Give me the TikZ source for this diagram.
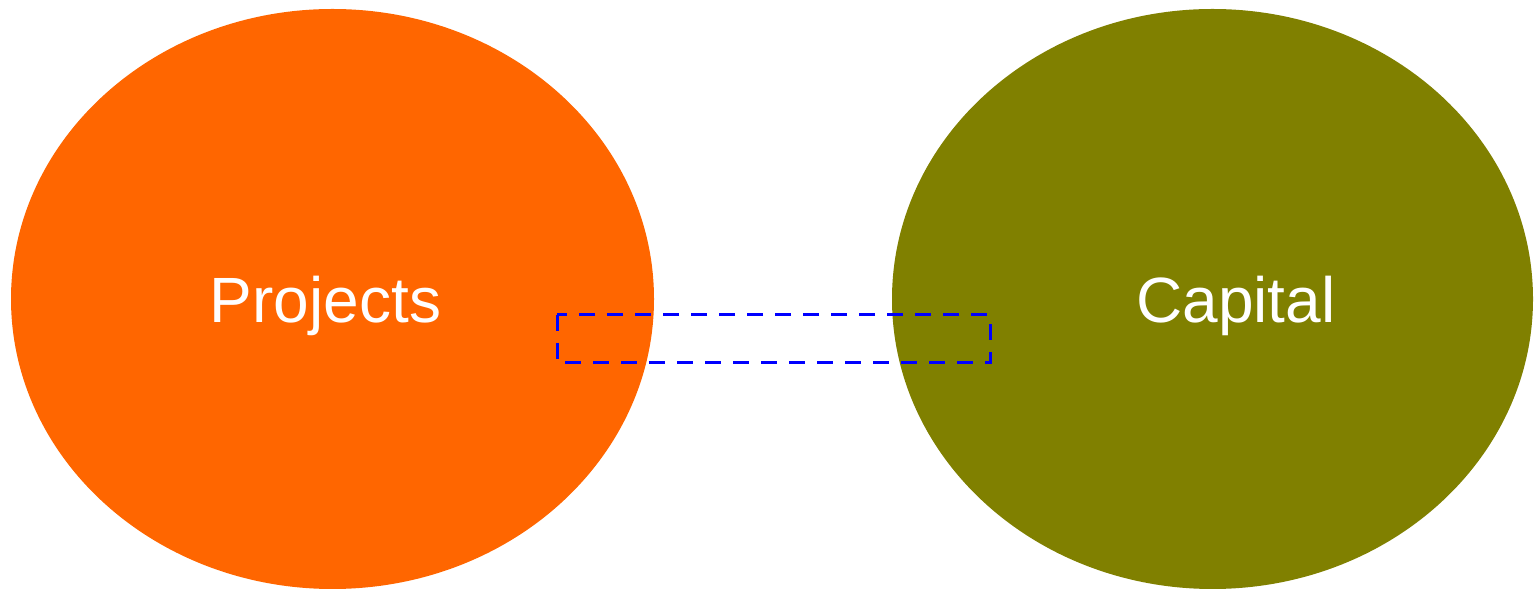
\documentclass[tikz,border=0pt]{standalone}
\usepackage{fontspec}
\setmainfont{Liberation Sans}
\definecolor{orng}{HTML}{FF6600}
\definecolor{olv}{HTML}{808000}
\begin{document}
\begin{tikzpicture}[x=1pt,y=1pt,
  lbl/.style={text=white,font=\fontsize{64}{64}\selectfont,inner sep=0pt,anchor=base},
  dashbox/.style={draw=blue,line width=3pt,dash pattern=on 16pt off 12pt}]
\useasboundingbox (0,0) rectangle (1534,591);
\fill[orng] (332.5,292) ellipse [x radius=321.5, y radius=290];
\fill[olv] (1212.5,292) ellipse [x radius=320.5, y radius=290];
\node[lbl] (proj) at (325.5,268) {Projects};
\node[lbl] (cap) at (1236,268) {Capital};
\draw[dashbox] (557,276) rectangle (990,228);
\end{tikzpicture}
\end{document}
